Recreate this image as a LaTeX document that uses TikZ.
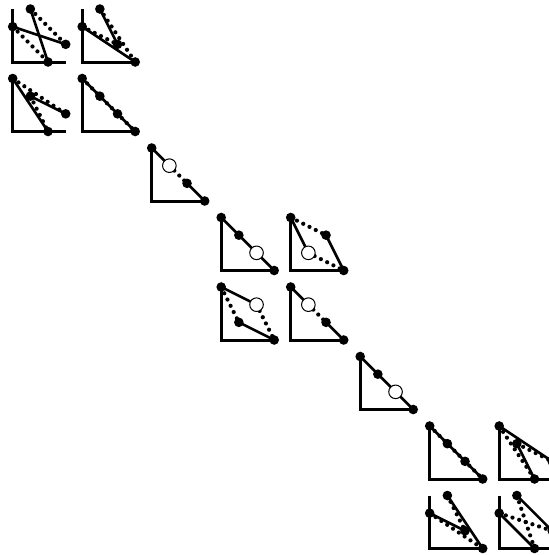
\documentclass[tikz,border=0pt]{standalone}
\usepackage{tikz}
\usetikzlibrary{calc}
\tikzset{
    axisline/.style={line width=3pt,draw=black},
    solidseg/.style={line width=2.6pt,draw=black},
    dotseg/.style={line width=4.2pt,draw=black,line cap=round,dash pattern=on 0pt off 7pt},
    dotpt/.style={fill=black},
    openpt/.style={fill=white,draw=black,line width=1pt},
    cell/.style 2 args={shift={({12.7+69.5*#1},{-62-69.5*#2})},x=53pt,y=53pt}
}

\begin{document}
\begin{tikzpicture}[x=1pt,y=1pt]
  \useasboundingbox (0,0) rectangle (549,-555);

  % 左上四格
  \begin{scope}[cell={0}{0}]
    \draw[axisline] (0,1) -- (0,0) -- (1,0);
    \coordinate (A) at (1/3,1);
    \coordinate (B) at (0,2/3);
    \coordinate (C) at (1,1/3);
    \coordinate (D) at (2/3,0);
    \draw[dotseg] (A) -- (C);
    \draw[dotseg] (B) -- (D);
    \draw[solidseg] (A) -- (D);
    \draw[solidseg] (B) -- (C);
    \foreach \P in {A,B,C,D}{
      \fill[dotpt] (\P) circle (4.8pt);
    }
  \end{scope}

  \begin{scope}[cell={1}{0}]
    \draw[axisline] (0,1) -- (0,0) -- (1,0);
    \coordinate (A) at (1/3,1);
    \coordinate (B) at (0,2/3);
    \coordinate (C) at (2/3,1/3);
    \coordinate (D) at (1,0);
    \draw[dotseg] (A) -- (D);
    \draw[dotseg] (B) -- (C);
    \draw[solidseg] (A) -- (C);
    \draw[solidseg] (B) -- (D);
    \foreach \P in {A,B,C,D}{
      \fill[dotpt] (\P) circle (4.8pt);
    }
  \end{scope}

  \begin{scope}[cell={0}{1}]
    \draw[axisline] (0,1) -- (0,0) -- (1,0);
    \coordinate (A) at (0,1);
    \coordinate (B) at (1/3,2/3);
    \coordinate (C) at (1,1/3);
    \coordinate (D) at (2/3,0);
    \draw[dotseg] (A) -- (C);
    \draw[dotseg] (B) -- (D);
    \draw[solidseg] (A) -- (D);
    \draw[solidseg] (B) -- (C);
    \foreach \P in {A,B,C,D}{
      \fill[dotpt] (\P) circle (4.8pt);
    }
  \end{scope}

  \begin{scope}[cell={1}{1}]
    \draw[axisline] (0,1) -- (0,0) -- (1,0);
    \coordinate (A) at (0,1);
    \coordinate (B) at (1/3,2/3);
    \coordinate (C) at (2/3,1/3);
    \coordinate (D) at (1,0);
    \draw[dotseg] (A) -- (D);
    \draw[solidseg] (A) -- (D);
    \foreach \P in {A,B,C,D}{
      \fill[dotpt] (\P) circle (4.8pt);
    }
  \end{scope}

  % 中间单格
  \begin{scope}[cell={2}{2}]
    \draw[axisline] (0,1) -- (0,0) -- (1,0);
    \coordinate (A) at (0,1);
    \coordinate (B) at (1/3,2/3);
    \coordinate (C) at (2/3,1/3);
    \coordinate (D) at (1,0);
    \draw[dotseg] (B) -- (C);
    \draw[solidseg] (A) -- (B);
    \draw[solidseg] (C) -- (D);
    \foreach \P in {A,C,D}{
      \fill[dotpt] (\P) circle (4.8pt);
    }
    \filldraw[openpt] (B) circle (6.8pt);
  \end{scope}

  % 中间四格
  \begin{scope}[cell={3}{3}]
    \draw[axisline] (0,1) -- (0,0) -- (1,0);
    \coordinate (A) at (0,1);
    \coordinate (B) at (1/3,2/3);
    \coordinate (C) at (2/3,1/3);
    \coordinate (D) at (1,0);
    \draw[solidseg] (A) -- (D);
    \foreach \P in {A,B,D}{
      \fill[dotpt] (\P) circle (4.8pt);
    }
    \filldraw[openpt] (C) circle (6.8pt);
  \end{scope}

  \begin{scope}[cell={4}{3}]
    \draw[axisline] (0,1) -- (0,0) -- (1,0);
    \coordinate (A) at (0,1);
    \coordinate (B) at (2/3,2/3);
    \coordinate (C) at (1/3,1/3);
    \coordinate (D) at (1,0);
    \draw[dotseg] (A) -- (B);
    \draw[dotseg] (C) -- (D);
    \draw[solidseg] (A) -- (C);
    \draw[solidseg] (B) -- (D);
    \foreach \P in {A,B,D}{
      \fill[dotpt] (\P) circle (4.8pt);
    }
    \filldraw[openpt] (C) circle (6.8pt);
  \end{scope}

  \begin{scope}[cell={3}{4}]
    \draw[axisline] (0,1) -- (0,0) -- (1,0);
    \coordinate (A) at (0,1);
    \coordinate (B) at (2/3,2/3);
    \coordinate (C) at (1/3,1/3);
    \coordinate (D) at (1,0);
    \draw[dotseg] (A) -- (C);
    \draw[dotseg] (B) -- (D);
    \draw[solidseg] (A) -- (B);
    \draw[solidseg] (C) -- (D);
    \foreach \P in {A,C,D}{
      \fill[dotpt] (\P) circle (4.8pt);
    }
    \filldraw[openpt] (B) circle (6.8pt);
  \end{scope}

  \begin{scope}[cell={4}{4}]
    \draw[axisline] (0,1) -- (0,0) -- (1,0);
    \coordinate (A) at (0,1);
    \coordinate (B) at (1/3,2/3);
    \coordinate (C) at (2/3,1/3);
    \coordinate (D) at (1,0);
    \draw[dotseg] (B) -- (C);
    \draw[solidseg] (A) -- (B);
    \draw[solidseg] (C) -- (D);
    \foreach \P in {A,C,D}{
      \fill[dotpt] (\P) circle (4.8pt);
    }
    \filldraw[openpt] (B) circle (6.8pt);
  \end{scope}

  % 中间单格
  \begin{scope}[cell={5}{5}]
    \draw[axisline] (0,1) -- (0,0) -- (1,0);
    \coordinate (A) at (0,1);
    \coordinate (B) at (1/3,2/3);
    \coordinate (C) at (2/3,1/3);
    \coordinate (D) at (1,0);
    \draw[solidseg] (A) -- (D);
    \foreach \P in {A,B,D}{
      \fill[dotpt] (\P) circle (4.8pt);
    }
    \filldraw[openpt] (C) circle (6.8pt);
  \end{scope}

  % 右下四格
  \begin{scope}[cell={6}{6}]
    \draw[axisline] (0,1) -- (0,0) -- (1,0);
    \coordinate (A) at (0,1);
    \coordinate (B) at (1/3,2/3);
    \coordinate (C) at (2/3,1/3);
    \coordinate (D) at (1,0);
    \draw[dotseg] (A) -- (D);
    \draw[solidseg] (A) -- (D);
    \foreach \P in {A,B,C,D}{
      \fill[dotpt] (\P) circle (4.8pt);
    }
  \end{scope}

  \begin{scope}[cell={7}{6}]
    \draw[axisline] (0,1) -- (0,0) -- (1,0);
    \coordinate (A) at (0,1);
    \coordinate (B) at (1/3,2/3);
    \coordinate (C) at (1,1/3);
    \coordinate (D) at (2/3,0);
    \draw[dotseg] (A) -- (D);
    \draw[dotseg] (B) -- (C);
    \draw[solidseg] (A) -- (C);
    \draw[solidseg] (B) -- (D);
    \foreach \P in {A,B,C,D}{
      \fill[dotpt] (\P) circle (4.8pt);
    }
  \end{scope}

  \begin{scope}[cell={6}{7}]
    \draw[axisline] (0,1) -- (0,0) -- (1,0);
    \coordinate (A) at (1/3,1);
    \coordinate (B) at (0,2/3);
    \coordinate (C) at (2/3,1/3);
    \coordinate (D) at (1,0);
    \draw[dotseg] (A) -- (C);
    \draw[dotseg] (B) -- (D);
    \draw[solidseg] (A) -- (D);
    \draw[solidseg] (B) -- (C);
    \foreach \P in {A,B,C,D}{
      \fill[dotpt] (\P) circle (4.8pt);
    }
  \end{scope}

  \begin{scope}[cell={7}{7}]
    \draw[axisline] (0,1) -- (0,0) -- (1,0);
    \coordinate (A) at (1/3,1);
    \coordinate (B) at (0,2/3);
    \coordinate (C) at (1,1/3);
    \coordinate (D) at (2/3,0);
    \draw[dotseg] (A) -- (D);
    \draw[dotseg] (B) -- (C);
    \draw[solidseg] (A) -- (C);
    \draw[solidseg] (B) -- (D);
    \foreach \P in {A,B,C,D}{
      \fill[dotpt] (\P) circle (4.8pt);
    }
  \end{scope}
\end{tikzpicture}
\end{document}
